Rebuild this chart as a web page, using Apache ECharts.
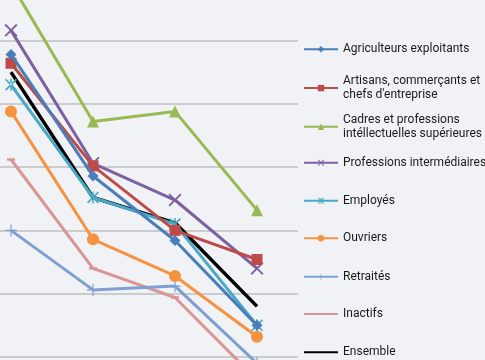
<!DOCTYPE html>
<html><head><meta charset="utf-8">
<script src="https://cdn.jsdelivr.net/npm/echarts@6/dist/echarts.min.js"></script>
<style>html,body{margin:0;padding:0;background:#f0f2f5;}#c{width:485px;height:360px;}</style>
</head><body><div id="c"></div>
<script>
const categories = ['P1', 'P2', 'P3', 'P4'];
const agriculteurs = [23.9, 14.3, 9.2, 2.5];
const artisans = [23.2, 15.1, 10.0, 7.7];
const cadres = [29.5, 18.6, 19.4, 11.6];
const profInter = [25.8, 15.3, 12.4, 7.0];
const employes = [21.5, 12.6, 10.5, 2.5];
const ouvriers = [19.4, 9.3, 6.4, 1.6];
const retraites = [10.0, 5.3, 5.6, -0.5];
const inactifs = [15.6, 7.0, 4.7, -1.8];
const ensemble = [22.5, 12.6, 10.6, 4.0];

const names = ['Agriculteurs exploitants', 'Artisans, commerçants et\nchefs d\'entreprise',
  'Cadres et professions\nintéllectuelles supérieures', 'Professions intermédiaires',
  'Employés', 'Ouvriers', 'Retraités', 'Inactifs', 'Ensemble'];
const values = [agriculteurs, artisans, cadres, profInter, employes, ouvriers, retraites, inactifs, ensemble];
const colors = ['#4A7EBB', '#BE4B48', '#98B954', '#7D60A0', '#46AAC5', '#F69240', '#7F9FD3', '#D99694', '#000000'];
const X = 'path://M1,0L5,4L9,0L10,1L6,5L10,9L9,10L5,6L1,10L0,9L4,5L0,1Z';
const AST = 'path://M1,0L5,4L9,0L10,1L6,5L10,9L9,10L5,6L1,10L0,9L4,5L0,1Z M4.4,0L4.4,10L5.6,10L5.6,0Z';
const PLUS = 'path://M4.5,0H5.5V4.5H10V5.5H5.5V10H4.5V5.5H0V4.5H4.5Z';
const DASH = 'path://M0,0H10V3H0Z';
const symbols = ['diamond', 'rect', 'triangle', X, AST, 'circle', PLUS, DASH, 'none'];
const sizes = [11, 11, 12, 13, 12, 12, 12, 8, 0];
const legendY = [49.3, 87.3, 126, 162.7, 200.7, 238.3, 276.7, 314, 352.3];

const series = names.map((n, i) => ({
  name: n, type: 'line', data: values[i],
  symbol: symbols[i], symbolSize: sizes[i], symbolKeepAspect: true,
  lineStyle: { color: colors[i], width: i === 8 ? 3.5 : 3 },
  itemStyle: { color: colors[i] },
  z: 10 - i
}));

const legends = names.map((n, i) => {
  const two = n.indexOf('\n') >= 0;
  const l = {
    data: [n], orient: 'vertical', left: 303,
    top: two ? legendY[i] - 19.5 : legendY[i] - 7,
    padding: 0, itemWidth: 34, itemHeight: 8,
    textStyle: { fontFamily: 'Roboto', fontSize: 12, color: '#1a1a1a', lineHeight: two ? 13.5 : 14,
      padding: two ? [13.5, 0, 0, 0] : 0 },
    selectedMode: false
  };
  if (i >= 7) l.itemStyle = { opacity: 0 };
  return l;
});

const chart = echarts.init(document.getElementById('c'), null, { renderer: 'canvas' });
chart.setOption({
  backgroundColor: '#f0f2f5',
  animation: false,
  grid: { left: -30, top: -22.8, width: 328, height: 443.1, outerBoundsMode: 'none', containLabel: false },
  xAxis: { type: 'category', data: categories, boundaryGap: true, show: false },
  yAxis: { type: 'value', min: -5, max: 30, interval: 5,
    axisLabel: { show: false }, axisLine: { show: false }, axisTick: { show: false },
    splitLine: { lineStyle: { color: '#bfbfbf', width: 1.5 } } },
  legend: legends,
  series: series
});
</script></body></html>
